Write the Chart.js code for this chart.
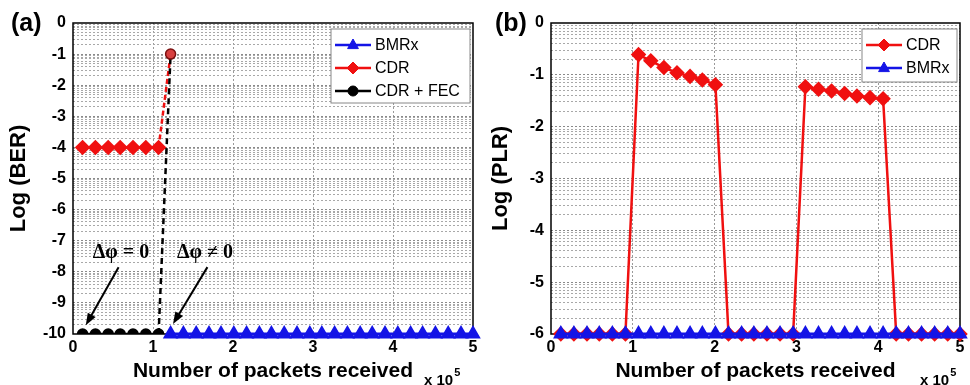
<!DOCTYPE html>
<html>
<head>
<meta charset="utf-8">
<script src="https://cdn.jsdelivr.net/npm/chart.js@4.4.1/dist/chart.umd.min.js"></script>
<style>
  body { margin: 0; background: #fff; }
  #wrap { position: relative; width: 970px; height: 385px; }
  canvas { position: absolute; top: 0; }
  #ca { left: 0; }
  #cb { left: 485px; }
</style>
</head>
<body>
<div id="wrap">
  <canvas id="ca" width="485" height="385"></canvas>
  <canvas id="cb" width="485" height="385"></canvas>
</div>
<script>
// packets received (x 10^5)
const packets = [0.12, 0.28, 0.44, 0.59, 0.75, 0.91, 1.07, 1.22, 1.38, 1.54, 1.70, 1.85, 2.01, 2.17, 2.33, 2.48,
  2.64, 2.80, 2.96, 3.11, 3.27, 3.43, 3.59, 3.74, 3.90, 4.06, 4.22, 4.37, 4.53, 4.69, 4.85, 5.00];

// (a) Log(BER)
const berBmrx = [null, null, null, null, null, null, null, -10, -10, -10, -10, -10, -10, -10, -10, -10,
  -10, -10, -10, -10, -10, -10, -10, -10, -10, -10, -10, -10, -10, -10, -10, -10];
const berCdr = [-4, -4, -4, -4, -4, -4, -4, -1, null, null, null, null, null, null, null, null,
  null, null, null, null, null, null, null, null, null, null, null, null, null, null, null, null];
const berCdrFec = [-10, -10, -10, -10, -10, -10, -10, -1, null, null, null, null, null, null, null, null,
  null, null, null, null, null, null, null, null, null, null, null, null, null, null, null, null];

// (b) Log(PLR)
const plrCdr = [-6, -6, -6, -6, -6, -6, -0.61, -0.73, -0.86, -0.96, -1.03, -1.10, -1.19, -6, -6, -6,
  -6, -6, -6, -1.23, -1.28, -1.31, -1.36, -1.41, -1.44, -1.46, -6, -6, -6, -6, -6, -6];
const plrBmrx = [-6, -6, -6, -6, -6, -6, -6, -6, -6, -6, -6, -6, -6, -6, -6, -6,
  -6, -6, -6, -6, -6, -6, -6, -6, -6, -6, -6, -6, -6, -6, -6, -6];

const xTicks = [0, 1, 2, 3, 4, 5];
const minorLog = [0.301, 0.477, 0.602, 0.699, 0.778, 0.845, 0.903, 0.954];

const RED = '#f01010', BLUE = '#1414e6', BLACK = '#000';
const SANS = '"Liberation Sans", Arial, sans-serif';

function pts(ys) {
  return packets.map((x, i) => ({ x: x, y: ys[i] }));
}

function marker(ctx, style, x, y, r, fill, stroke) {
  ctx.beginPath();
  if (style === 'rectRot') {
    ctx.moveTo(x, y - r); ctx.lineTo(x + r, y); ctx.lineTo(x, y + r); ctx.lineTo(x - r, y);
  } else if (style === 'triangle') {
    ctx.moveTo(x, y - r); ctx.lineTo(x + r * 0.9, y + r * 0.6); ctx.lineTo(x - r * 0.9, y + r * 0.6);
  } else {
    ctx.arc(x, y, r, 0, Math.PI * 2);
  }
  ctx.closePath();
  ctx.fillStyle = fill; ctx.fill();
  ctx.strokeStyle = stroke; ctx.lineWidth = 1; ctx.stroke();
}

function arrow(ctx, x0, y0, x1, y1) {
  const a = Math.atan2(y1 - y0, x1 - x0);
  ctx.strokeStyle = '#000'; ctx.fillStyle = '#000'; ctx.lineWidth = 2;
  ctx.beginPath(); ctx.moveTo(x0, y0); ctx.lineTo(x1 - 8 * Math.cos(a), y1 - 8 * Math.sin(a)); ctx.stroke();
  ctx.beginPath();
  ctx.moveTo(x1, y1);
  ctx.lineTo(x1 - 12 * Math.cos(a) + 4.5 * Math.sin(a), y1 - 12 * Math.sin(a) - 4.5 * Math.cos(a));
  ctx.lineTo(x1 - 12 * Math.cos(a) - 4.5 * Math.sin(a), y1 - 12 * Math.sin(a) + 4.5 * Math.cos(a));
  ctx.closePath(); ctx.fill();
}

function makeDeco(o) {
  return {
    id: 'deco',
    beforeDatasetsDraw(chart) {
      const { ctx, chartArea: a } = chart;
      ctx.save();
      ctx.strokeStyle = '#000'; ctx.lineWidth = 1.5;
      ctx.strokeRect(a.left, a.top, a.right - a.left, a.bottom - a.top);
      ctx.restore();
    },
    afterDraw(chart) {
      const { ctx, scales } = chart;
      ctx.save();
      // panel label
      ctx.fillStyle = '#000';
      ctx.font = 'bold 25px ' + SANS;
      ctx.textBaseline = 'middle'; ctx.textAlign = 'left';
      ctx.fillText(o.panel, o.panelX, 24);
      // x 10^5
      ctx.font = 'bold 15px ' + SANS;
      ctx.textBaseline = 'alphabetic';
      ctx.fillText('x 10', o.expX, 385);
      const w = ctx.measureText('x 10').width;
      ctx.font = 'bold 11px ' + SANS;
      ctx.fillText('5', o.expX + w + 1, 376);
      // legend
      const L = o.legend;
      ctx.fillStyle = '#fff'; ctx.strokeStyle = '#888'; ctx.lineWidth = 1;
      ctx.fillRect(L.x, L.y, L.w, L.h); ctx.strokeRect(L.x, L.y, L.w, L.h);
      ctx.font = '16px ' + SANS; ctx.textBaseline = 'middle';
      L.items.forEach((it, i) => {
        const y = L.y + 16 + i * 23;
        ctx.strokeStyle = it.color; ctx.lineWidth = 2.5;
        ctx.beginPath(); ctx.moveTo(L.x + 4, y); ctx.lineTo(L.x + 40, y); ctx.stroke();
        marker(ctx, it.style, L.x + 22, y, it.r, it.color, it.color);
        ctx.fillStyle = '#000';
        ctx.fillText(it.label, L.x + 44, y + 1);
      });
      // annotations
      if (o.notes) {
        const X = scales.x, Y = scales.y;
        o.notes.forEach(n => {
          ctx.fillStyle = '#000';
          ctx.font = 'bold 20px "Liberation Serif", "Times New Roman", serif';
          ctx.textAlign = 'center'; ctx.textBaseline = 'middle';
          ctx.fillText(n.text, X.getPixelForValue(n.tx), Y.getPixelForValue(n.ty));
          arrow(ctx, X.getPixelForValue(n.ax0), Y.getPixelForValue(n.ay0),
            X.getPixelForValue(n.ax1), Y.getPixelForValue(n.ay1));
        });
      }
      ctx.restore();
    }
  };
}

function scalesFor(yMin, yTitle, yWidth, titlePad) {
  return {
    x: {
      type: 'linear', min: 0, max: 5,
      afterBuildTicks: s => { s.ticks = xTicks.map(v => ({ value: v })); },
      afterFit: s => { s.height = 51; },
      ticks: { color: '#000', font: { family: SANS, size: 16, weight: 'bold' }, padding: 4, maxRotation: 0, autoSkip: false },
      grid: {
        drawTicks: false,
        color: c => (c.tick.value === 0 || c.tick.value === 5) ? 'rgba(0,0,0,0)' : '#9a9a9a',
        lineWidth: 1
      },
      border: { display: false, dash: [2, 2] },
      title: { display: true, text: 'Number of packets received', color: '#000',
        font: { family: SANS, size: 21, weight: 'bold' }, padding: { top: 0, bottom: 1 } }
    },
    y: {
      type: 'linear', min: yMin, max: 0,
      afterBuildTicks: s => {
        const t = [];
        for (let k = yMin; k < 0; k++) {
          t.push({ value: k });
          minorLog.forEach(m => t.push({ value: k + m }));
        }
        t.push({ value: 0 });
        s.ticks = t;
      },
      afterFit: s => { s.width = yWidth; },
      ticks: {
        color: '#000', font: { family: SANS, size: 16, weight: 'bold' }, padding: 7, autoSkip: false,
        callback: v => Number.isInteger(v) ? String(v) : ''
      },
      grid: {
        drawTicks: false,
        color: c => {
          const v = c.tick.value;
          if (v === 0 || v === yMin) return 'rgba(0,0,0,0)';
          return Number.isInteger(v) ? '#8a8a8a' : '#a8a8a8';
        },
        lineWidth: 1
      },
      border: { display: false, dash: [2, 2] },
      title: { display: true, text: yTitle, color: '#000',
        font: { family: SANS, size: 22, weight: 'bold' }, padding: { top: titlePad, bottom: 0 } }
    }
  };
}

const dashLast = c => c.p1DataIndex === 7 ? [5, 3] : undefined;

new Chart(document.getElementById('ca'), {
  type: 'line',
  data: {
    datasets: [
      {
        label: 'BMRx', data: pts(berBmrx), borderColor: BLUE, backgroundColor: BLUE,
        borderWidth: 3, pointStyle: 'triangle', pointRadius: 6, pointBorderColor: BLUE,
        order: 0, clip: false
      },
      {
        label: 'CDR', data: pts(berCdr), borderColor: RED, backgroundColor: RED,
        borderWidth: 2.5, pointStyle: 'rectRot', pointRadius: [6, 6, 6, 6, 6, 6, 6, 0],
        pointBorderColor: RED, segment: { borderDash: dashLast }, order: 2
      },
      {
        label: 'CDR + FEC', data: pts(berCdrFec), borderColor: BLACK, backgroundColor: BLACK,
        borderWidth: 2.5, pointStyle: 'circle', pointRadius: 5,
        pointBackgroundColor: ['#000', '#000', '#000', '#000', '#000', '#000', '#000', '#d84040'],
        pointBorderColor: ['#000', '#000', '#000', '#000', '#000', '#000', '#000', '#7a1010'],
        pointBorderWidth: 1.5,
        segment: { borderDash: c => c.p1DataIndex === 7 ? [6, 4] : undefined }, order: 1
      }
    ]
  },
  options: {
    responsive: false, animation: false,
    layout: { padding: { left: 0, right: 12, top: 23, bottom: 0 } },
    plugins: { legend: { display: false }, tooltip: { enabled: false } },
    scales: scalesFor(-10, 'Log (BER)', 73, 6)
  },
  plugins: [makeDeco({
    panel: '(a)', panelX: 11, expX: 424,
    legend: { x: 331, y: 29, w: 139, h: 74, items: [
      { label: 'BMRx', color: BLUE, style: 'triangle', r: 6 },
      { label: 'CDR', color: RED, style: 'rectRot', r: 6 },
      { label: 'CDR + FEC', color: BLACK, style: 'circle', r: 5 }
    ] },
    notes: [
      { text: 'Δφ = 0', tx: 0.6, ty: -7.4, ax0: 0.57, ay0: -7.85, ax1: 0.16, ay1: -9.72 },
      { text: 'Δφ ≠ 0', tx: 1.65, ty: -7.4, ax0: 1.68, ay0: -7.85, ax1: 1.25, ay1: -9.68 }
    ]
  })]
});

new Chart(document.getElementById('cb'), {
  type: 'line',
  data: {
    datasets: [
      {
        label: 'CDR', data: pts(plrCdr), borderColor: RED, backgroundColor: RED,
        borderWidth: 2.5, pointStyle: 'rectRot', pointRadius: 6, pointBorderColor: RED,
        order: 1, clip: false
      },
      {
        label: 'BMRx', data: pts(plrBmrx), borderColor: BLUE, backgroundColor: BLUE,
        borderWidth: 3, pointStyle: 'triangle', pointRadius: 6, pointBorderColor: BLUE,
        order: 0, clip: false
      }
    ]
  },
  options: {
    responsive: false, animation: false,
    layout: { padding: { left: 0, right: 10, top: 23, bottom: 0 } },
    plugins: { legend: { display: false }, tooltip: { enabled: false } },
    scales: scalesFor(-6, 'Log (PLR)', 66, 3)
  },
  plugins: [makeDeco({
    panel: '(b)', panelX: 10, expX: 435,
    legend: { x: 377, y: 29, w: 95, h: 53, items: [
      { label: 'CDR', color: RED, style: 'rectRot', r: 6 },
      { label: 'BMRx', color: BLUE, style: 'triangle', r: 6 }
    ] }
  })]
});
</script>
</body>
</html>
